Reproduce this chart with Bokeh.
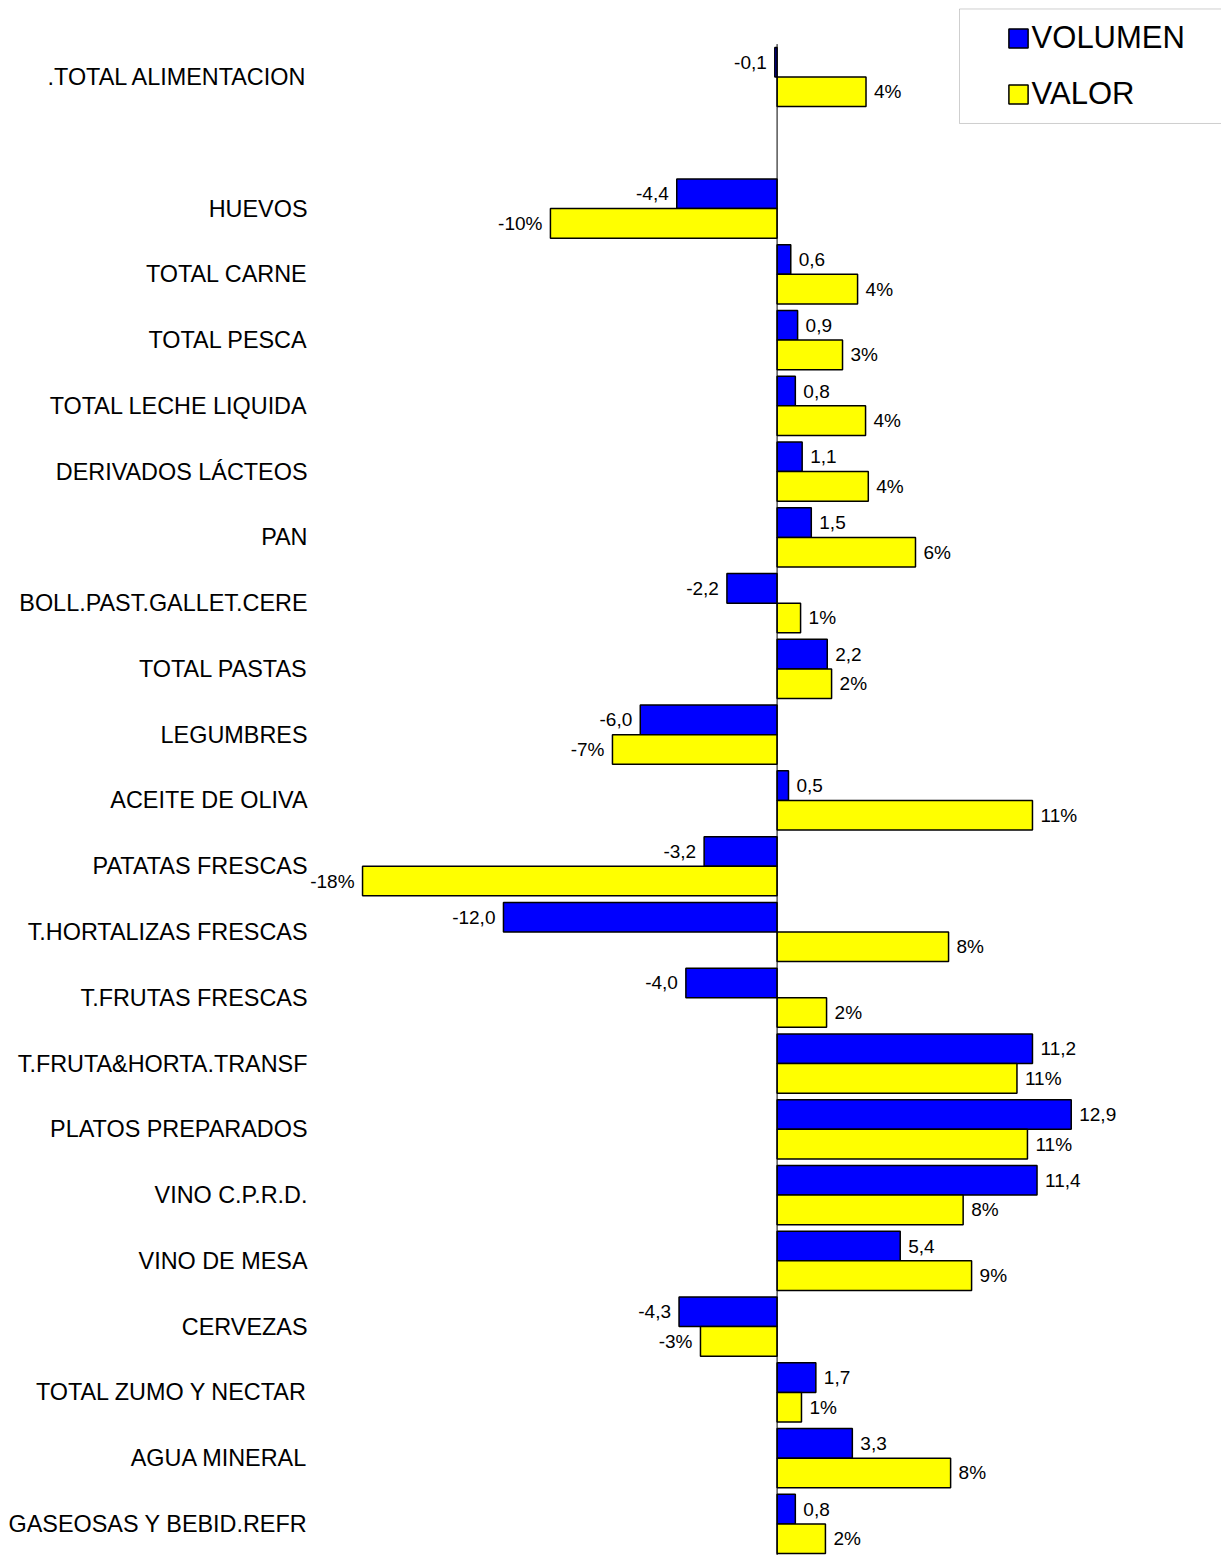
from bokeh.plotting import figure
from bokeh.models import (ColumnDataSource, Range1d, FixedTicker, LabelSet,
                          Legend, LegendItem, BoxAnnotation)
from bokeh.core.properties import value
from bokeh.transform import dodge
from bokeh.embed import file_html
from bokeh.resources import INLINE

# ---------------- data ----------------
categories = [".TOTAL ALIMENTACION", "", "HUEVOS", "TOTAL CARNE", "TOTAL PESCA",
              "TOTAL LECHE LIQUIDA", "DERIVADOS LÁCTEOS", "PAN",
              "BOLL.PAST.GALLET.CERE", "TOTAL PASTAS", "LEGUMBRES",
              "ACEITE DE OLIVA", "PATATAS FRESCAS", "T.HORTALIZAS FRESCAS",
              "T.FRUTAS FRESCAS", "T.FRUTA&HORTA.TRANSF", "PLATOS PREPARADOS",
              "VINO C.P.R.D.", "VINO DE MESA", "CERVEZAS", "TOTAL ZUMO Y NECTAR",
              "AGUA MINERAL", "GASEOSAS Y BEBID.REFR"]
volumen = [-0.1, None, -4.4, 0.6, 0.9, 0.8, 1.1, 1.5, -2.2, 2.2, -6.0, 0.5,
           -3.2, -12.0, -4.0, 11.2, 12.9, 11.4, 5.4, -4.3, 1.7, 3.3, 0.8]
valor = [3.9, None, -9.94, 3.53, 2.87, 3.88, 4.0, 6.07, 1.03, 2.39, -7.22, 11.2,
         -18.18, 7.52, 2.17, 10.52, 10.98, 8.16, 8.53, -3.36, 1.07, 7.61, 2.12]
series_names = ["VOLUMEN", "VALOR"]
colors = ["#0000FF", "#FFFF00"]

n = len(categories)
pos = [n - 1 - i for i in range(n)]

rows = [i for i in range(n) if volumen[i] is not None]
src = ColumnDataSource(dict(
    y=[pos[i] for i in rows],
    vol=[volumen[i] for i in rows],
    val=[valor[i] for i in rows],
))

FONT = "Liberation Sans"

p = figure(width=1221, height=1555, output_backend="svg", toolbar_location=None,
           x_range=Range1d(-20.55, 19.49), y_range=Range1d(-0.480, 23.163),
           x_axis_location=None, y_axis_location="left",
           min_border_left=308, min_border_right=0, min_border_top=0,
           min_border_bottom=0)
p.outline_line_color = None
p.background_fill_color = "white"
p.grid.grid_line_color = None

BAR_H = 0.45
r_vol = p.hbar(y=dodge("y", BAR_H / 2), left=0, right="vol", height=BAR_H,
               source=src, fill_color=colors[0], line_color="black", line_width=1.5)
r_val = p.hbar(y=dodge("y", -BAR_H / 2), left=0, right="val", height=BAR_H,
               source=src, fill_color=colors[1], line_color="black", line_width=1.5)

# zero axis line
p.segment(x0=[0], y0=[-0.5], x1=[0], y1=[n - 0.5], line_color="black", line_width=1)

# y axis with category labels
ticks = [pos[i] for i in range(n) if categories[i]]
p.yaxis.ticker = FixedTicker(ticks=ticks)
p.yaxis.major_label_overrides = {pos[i]: categories[i] for i in range(n) if categories[i]}
p.yaxis.axis_line_color = None
p.yaxis.major_tick_line_color = None
p.yaxis.minor_tick_line_color = None
p.yaxis.major_tick_out = 0
p.yaxis.major_tick_in = 0
p.yaxis.major_label_standoff = 1
p.yaxis.major_label_text_font = FONT
p.yaxis.major_label_text_font_size = "23.4px"
p.yaxis.major_label_text_color = "black"

# data labels
def add_labels(values, fmt, off):
    for sign in (1, -1):
        idx = [i for i in rows if (values[i] >= 0) == (sign > 0)]
        s = ColumnDataSource(dict(
            x=[values[i] for i in idx],
            y=[pos[i] + off for i in idx],
            t=[fmt(values[i]) for i in idx],
        ))
        p.add_layout(LabelSet(x="x", y="y", text="t", source=s,
                              x_offset=8 * sign,
                              text_align="left" if sign > 0 else "right",
                              text_baseline="middle", text_font=value(FONT),
                              text_font_size="19px", text_color="black"))

add_labels(volumen, lambda v: f"{v:.1f}".replace(".", ","), BAR_H / 2)
add_labels(valor, lambda v: f"{v:.0f}%", -BAR_H / 2)

# legend box
box = BoxAnnotation(left=8.0, right=25, top=23.034, bottom=21.293,
                    fill_color="white", fill_alpha=1,
                    line_color="#606060", line_width=1)
p.add_layout(box)

legend = Legend(items=[LegendItem(label=series_names[0], renderers=[r_vol]),
                       LegendItem(label=series_names[1], renderers=[r_val])],
                location=(697.6, 1442.9), orientation="vertical",
                border_line_color=None, background_fill_alpha=0,
                padding=0, margin=0, glyph_width=24, glyph_height=24,
                label_standoff=2, spacing=20,
                label_text_font=FONT, label_text_font_size="31px",
                label_text_color="black")
p.add_layout(legend)

open("out.html", "w").write(file_html(p, INLINE))
